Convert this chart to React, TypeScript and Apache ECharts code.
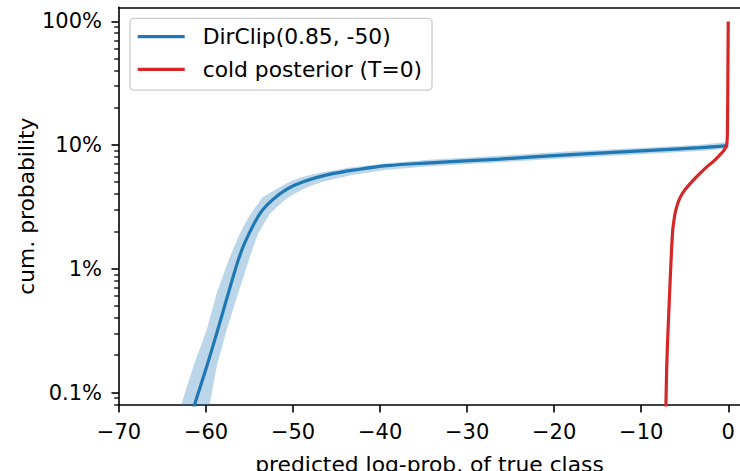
import React, { useEffect, useRef } from 'react';
import * as echarts from 'echarts';

// ---- axis ticks ----
const xTicks = [-70, -60, -50, -40, -30, -20, -10, 0];
const yTickValues = [0.1, 1, 10, 100]; // percent
const yTickLabels = ['0.1%', '1%', '10%', '100%'];

// ---- DirClip(0.85, -50): mean curve (x = log-prob, p = cum. probability in %) ----
const dirclipX = [-61.51, -61.27, -59.93, -58.66, -57.44, -56.10, -54.95, -53.71, -52.37, -50.70, -48.75, -46.11, -42.55, -39.21, -34.28, -26.23, -18.57, -9.0, -3.25, 0];
const dirclipP = [0.0724, 0.082, 0.162, 0.321, 0.635, 1.297, 2.00, 2.86, 3.61, 4.42, 5.09, 5.75, 6.36, 6.83, 7.19, 7.72, 8.35, 9.06, 9.54, 9.91];

// band: upper-left edge
const bandUpperX = [-62.99, -62.80, -61.47, -59.93, -58.78, -57.25, -56.10, -55.41, -54.72, -54.09, -53.57, -52.48, -51.51, -50.41, -49.21, -47.94, -46.57, -43.47, -39.44, -34.28, -26.23, -18.57, -9.0, -3.25, 0];
const bandUpperP = [0.0724, 0.082, 0.162, 0.321, 0.635, 1.26, 1.94, 2.40, 2.89, 3.32, 3.75, 4.19, 4.60, 5.05, 5.44, 5.77, 6.05, 6.61, 7.10, 7.62, 8.20, 8.88, 9.58, 10.09, 10.6];
// band: lower-right edge
const bandLowerX = [-59.32, -59.55, -58.78, -57.63, -56.30, -54.95, -54.00, -53.34, -52.67, -51.91, -51.16, -50.36, -49.55, -48.69, -47.83, -46.85, -45.76, -43.23, -39.44, -34.28, -26.23, -18.57, -9.0, -3.25, 0];
const bandLowerP = [0.0724, 0.082, 0.162, 0.321, 0.635, 1.26, 1.94, 2.33, 2.78, 3.14, 3.51, 3.85, 4.15, 4.47, 4.73, 5.00, 5.24, 5.75, 6.31, 6.75, 7.26, 7.85, 8.52, 8.98, 9.39];

// ---- cold posterior (T=0) ----
const coldX = [-7.18, -7.16, -7.07, -6.93, -6.77, -6.58, -6.39, -6.26, -6.12, -5.89, -5.55, -5.03, -4.40, -3.71, -3.02, -2.33, -1.64, -1.01, -0.49, -0.26, -0.15, -0.09, -0.03, 0];
const coldP = [0.0697, 0.0794, 0.162, 0.303, 0.561, 1.14, 2.03, 2.40, 2.79, 3.23, 3.75, 4.31, 4.86, 5.49, 6.14, 6.80, 7.46, 8.27, 9.08, 9.77, 10.4, 13.3, 49.0, 100];

const FONT = 'DejaVu Sans';
const lg = (p: number) => Math.log10(p);

export default function App() {
  const ref = useRef<HTMLDivElement>(null);
  useEffect(() => {
    if (!ref.current) return;
    const chart = echarts.init(ref.current, undefined, { renderer: 'svg' });

    const yMin = -1.1;
    const yMax = 2.114;
    const xMin = -70;
    const xMax = 1.35;

    // minor log ticks (2..9 x 10^k) inside the axis range
    const minorVals: number[] = [];
    for (let k = -2; k <= 2; k++) {
      for (let m = 2; m <= 9; m++) {
        const v = Math.log10(m) + k;
        if (v > yMin && v < yMax) minorVals.push(v);
      }
    }
    const majorVals = yTickValues.map(lg);

    const yFmt = (v: number) => {
      const i = majorVals.findIndex((t) => Math.abs(t - v) < 1e-6);
      return i >= 0 ? yTickLabels[i] : '';
    };

    const option: any = {
      animation: false,
      textStyle: { fontFamily: FONT },
      grid: { left: 119, right: 0, top: 7.3, bottom: 66, containLabel: false, outerBoundsMode: 'none' },
      legend: {
        orient: 'vertical',
        left: 130,
        top: 18.3,
        padding: [5.4, 10, 7.7, 7.7],
        itemGap: 6.7,
        itemWidth: 47,
        itemHeight: 3.3,
        icon: 'rect',
        backgroundColor: 'rgba(255,255,255,0.8)',
        borderColor: '#cccccc',
        borderWidth: 1.3,
        borderRadius: 4,
        textStyle: { fontSize: 21.8, fontFamily: FONT, color: '#000', lineHeight: 26, padding: [0, 0, 0, 13] },
        data: ['DirClip(0.85, -50)', 'cold posterior (T=0)'],
      },
      xAxis: [
        {
          type: 'value',
          min: xMin,
          max: xMax,
          position: 'bottom',
          axisLine: { show: true, onZero: false, lineStyle: { color: '#000', width: 1.6 } },
          axisTick: { show: true, customValues: xTicks, length: 7.5, lineStyle: { color: '#000', width: 1.6 } },
          axisLabel: {
            customValues: xTicks,
            formatter: (v: number) => (v < 0 ? '\u2212' + Math.abs(v) : String(v)),
            fontSize: 21,
            fontFamily: FONT,
            color: '#000',
            margin: 16,
          },
          splitLine: { show: false },
          name: 'predicted log-prob. of true class',
          nameLocation: 'middle',
          nameGap: 48,
          nameMoveOverlap: false,
          nameTextStyle: { fontSize: 21.8, fontFamily: FONT, color: '#000' },
        },
        {
          type: 'value',
          min: xMin,
          max: xMax,
          position: 'top',
          axisLine: { show: true, onZero: false, lineStyle: { color: '#000', width: 1.6 } },
          axisTick: { show: false },
          axisLabel: { show: false },
          splitLine: { show: false },
        },
      ],
      yAxis: [
        {
          type: 'value',
          min: yMin,
          max: yMax,
          position: 'left',
          axisLine: { show: true, onZero: false, lineStyle: { color: '#000', width: 1.6 } },
          axisTick: { show: true, customValues: majorVals, length: 7.5, lineStyle: { color: '#000', width: 1.6 } },
          axisLabel: {
            customValues: majorVals,
            formatter: yFmt,
            fontSize: 21,
            fontFamily: FONT,
            color: '#000',
            margin: 17,
          },
          splitLine: { show: false },
          name: 'cum. probability',
          nameLocation: 'middle',
          nameRotate: 90,
          nameGap: 82,
          nameMoveOverlap: false,
          nameTextStyle: { fontSize: 21.8, fontFamily: FONT, color: '#000' },
        },
      ],
      series: [
        {
          type: 'custom',
          name: 'band',
          xAxisIndex: 0,
          yAxisIndex: 0,
          clip: true,
          silent: true,
          z: 1,
          data: [[-30, 0]],
          renderItem: (_params: any, api: any) => {
            const up = bandUpperX.map((x, i) => api.coord([x, lg(bandUpperP[i])]));
            const lo = bandLowerX.map((x, i) => api.coord([x, lg(bandLowerP[i])])).reverse();
            return {
              type: 'polygon',
              shape: { points: up.concat(lo) },
              style: { fill: 'rgba(31,119,180,0.3)', stroke: 'none' },
            };
          },
        },
        {
          type: 'line',
          name: 'DirClip(0.85, -50)',
          xAxisIndex: 0,
          yAxisIndex: 0,
          data: dirclipX.map((x, i) => [x, lg(dirclipP[i])]),
          color: '#1f77b4',
          itemStyle: { color: '#1f77b4' },
          lineStyle: { color: '#1f77b4', width: 3.2 },
          symbol: 'none',
          showSymbol: false,
          smooth: 0.35,
          z: 2,
        },
        {
          type: 'line',
          name: 'cold posterior (T=0)',
          xAxisIndex: 0,
          yAxisIndex: 0,
          data: coldX.map((x, i) => [x, lg(coldP[i])]),
          color: '#d62728',
          itemStyle: { color: '#d62728' },
          lineStyle: { color: '#d62728', width: 3.2 },
          symbol: 'none',
          showSymbol: false,
          smooth: 0.3,
          z: 3,
        },
      ],
    };
    chart.setOption(option);

    // minor ticks of the log axis, positioned through the axis scale (drawn as thin rects)
    const minorTicks = minorVals.map((v) => {
      const p = chart.convertToPixel({ xAxisIndex: 0, yAxisIndex: 0 }, [xMin, v]) as number[];
      const yy = Math.round(p[1]);
      return {
        type: 'rect',
        silent: true,
        z: 100,
        shape: { x: p[0] - 4.8, y: yy - 0.65, width: 4.8, height: 1.3 },
        style: { fill: '#000' },
      };
    });
    chart.setOption({ graphic: { elements: minorTicks } });

    return () => chart.dispose();
  }, []);
  return <div ref={ref} style={{ position: 'absolute', left: 0, top: 0, width: 740, height: 471 }} />;
}
